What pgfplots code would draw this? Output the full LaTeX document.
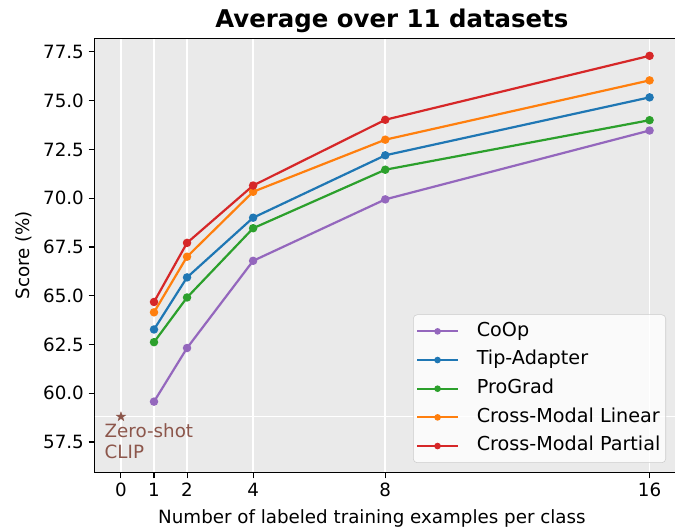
\documentclass[border=0pt]{standalone}
\usepackage{fontspec}
\setmainfont{DejaVu Sans}
\usepackage{pgfplots}
\pgfplotsset{compat=1.18}
\usetikzlibrary{plotmarks}

\definecolor{cpurple}{HTML}{9467BD}
\definecolor{cblue}{HTML}{1F77B4}
\definecolor{cgreen}{HTML}{2CA02C}
\definecolor{corange}{HTML}{FF7F0E}
\definecolor{cred}{HTML}{D62728}
\definecolor{cbrown}{HTML}{8C564B}
\definecolor{bggray}{RGB}{234,234,234}
\definecolor{lgborder}{RGB}{204,204,204}

\pgfdeclareplotmark{fstar}{%
  \pgfpathmoveto{\pgfpointpolar{90}{\pgfplotmarksize}}%
  \pgfpathlineto{\pgfpointpolar{126}{0.4\pgfplotmarksize}}%
  \pgfpathlineto{\pgfpointpolar{162}{\pgfplotmarksize}}%
  \pgfpathlineto{\pgfpointpolar{198}{0.4\pgfplotmarksize}}%
  \pgfpathlineto{\pgfpointpolar{234}{\pgfplotmarksize}}%
  \pgfpathlineto{\pgfpointpolar{270}{0.4\pgfplotmarksize}}%
  \pgfpathlineto{\pgfpointpolar{306}{\pgfplotmarksize}}%
  \pgfpathlineto{\pgfpointpolar{342}{0.4\pgfplotmarksize}}%
  \pgfpathlineto{\pgfpointpolar{18}{\pgfplotmarksize}}%
  \pgfpathlineto{\pgfpointpolar{54}{0.4\pgfplotmarksize}}%
  \pgfpathclose
  \pgfusepathqfillstroke
}

\newcommand{\lbfont}{\fontsize{13.7}{16.4}\selectfont}
\newcommand{\lgfont}{\fontsize{14.4}{17}\selectfont}

\begin{document}
\begin{tikzpicture}
\begin{axis}[
  scale only axis,
  width=436.1pt, height=325.5pt,
  xmin=-0.8, xmax=16.8, ymin=55.95, ymax=78.2,
  xtick={0,1,2,4,8,16},
  ytick={57.5,60,62.5,65,67.5,70,72.5,75,77.5},
  /pgf/number format/assume math mode=true,
  yticklabel style={/pgf/number format/.cd, fixed, fixed zerofill, precision=1},
  ticklabel style={font=\lbfont},
  tick align=outside,
  major tick length=4.5pt,
  tick style={black, line width=0.8pt},
  xtick pos=bottom, ytick pos=left,
  axis line style={black, line width=0.9pt},
  axis background/.style={fill=bggray},
  xmajorgrids,
  grid style={white, line width=1.2pt},
  title={\bfseries Average over 11 datasets},
  title style={font=\fontsize{18.3}{22}\selectfont, at={(0.5,1)}, anchor=base, yshift=1.7pt, xshift=5pt},
  xlabel={Number of labeled training examples per class},
  xlabel style={font=\lbfont, at={([yshift=-38.8pt, xshift=-10pt]rel axis cs:0.5,0)}, anchor=base},
  ylabel={Score (\%)},
  ylabel style={font=\lbfont, at={([xshift=-48.9pt]rel axis cs:0,0.5)}, anchor=base},
  legend cell align=left,
  legend style={at={(0.9828,0.0214)}, anchor=south east,
    draw=lgborder, fill=white, fill opacity=0.8, text opacity=1,
    rounded corners=3pt, font=\lgfont, inner xsep=2pt, inner ysep=2pt,
    nodes={text height=10.5pt, text depth=3.5pt, inner ysep=3.5pt},
    row sep=0.5pt},
  legend image code/.code={%
    \draw[mark repeat=2, mark phase=2, mark size=1.6pt] plot coordinates {(0pt,0pt) (15.4pt,0pt) (30.8pt,0pt)};
    \path (42pt,0pt);
  },
  every axis plot/.append style={line width=1.65pt, mark=*, mark size=2.3pt},
]
\addplot[white, line width=1.2pt, mark=none, forget plot] coordinates {(-0.8,58.8) (16.8,58.8)};
\addplot[cpurple, mark options={fill=cpurple}] coordinates {(1,59.57) (2,62.32) (4,66.79) (8,69.94) (16,73.47)};
\addlegendentry{CoOp}
\addplot[cblue, mark options={fill=cblue}] coordinates {(1,63.27) (2,65.94) (4,69.0) (8,72.2) (16,75.17)};
\addlegendentry{Tip-Adapter}
\addplot[cgreen, mark options={fill=cgreen}] coordinates {(1,62.62) (2,64.91) (4,68.46) (8,71.46) (16,74.0)};
\addlegendentry{ProGrad}
\addplot[corange, mark options={fill=corange}] coordinates {(1,64.15) (2,67.0) (4,70.33) (8,73.0) (16,76.04)};
\addlegendentry{Cross-Modal Linear}
\addplot[cred, mark options={fill=cred}] coordinates {(1,64.68) (2,67.71) (4,70.65) (8,74.02) (16,77.3)};
\addlegendentry{Cross-Modal Partial}
\addplot[cbrown, only marks, mark=fstar, mark size=3.6pt, mark options={fill=cbrown, draw=cbrown, line width=0.3pt}, forget plot] coordinates {(0,58.8)};
\node[cbrown, anchor=north west, align=left, font=\lbfont, inner sep=0pt] at (axis cs:-0.5,58.45) {Zero-shot\\[-1pt]CLIP};
\end{axis}
\pgfresetboundingbox
\path[use as bounding box] ([xshift=-70.9pt, yshift=-41pt]current axis.south west) rectangle ([xshift=-0.75pt, yshift=28.7pt]current axis.north east);
\end{tikzpicture}
\end{document}
